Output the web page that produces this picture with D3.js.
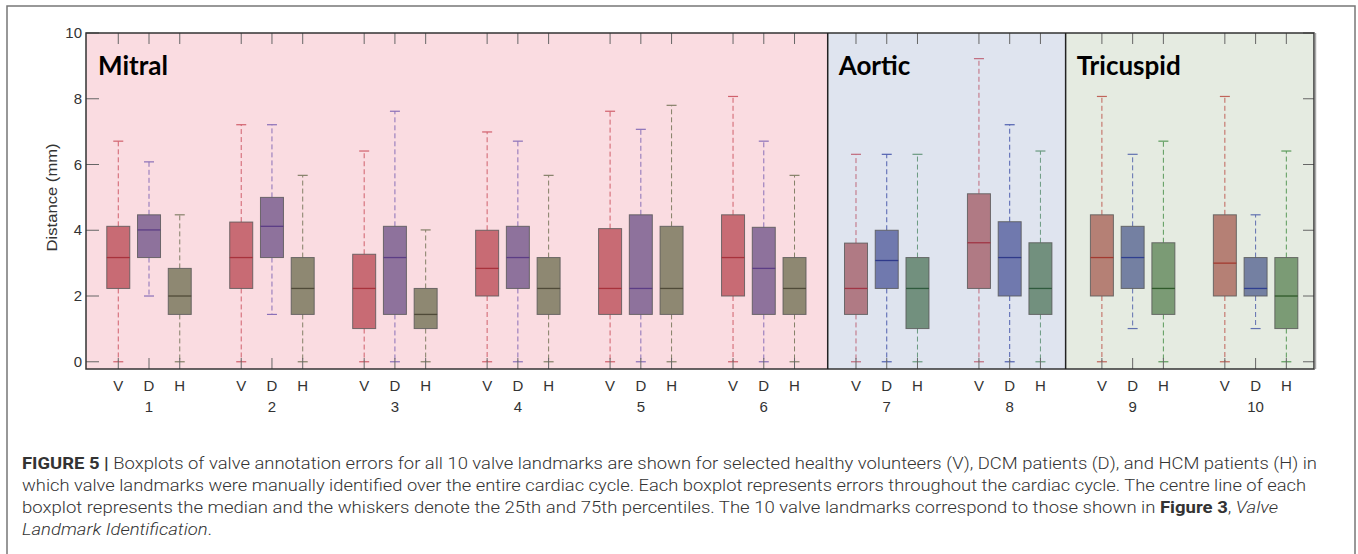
<!DOCTYPE html>
<html>
<head>
<meta charset="utf-8">
<script src="https://cdn.jsdelivr.net/npm/d3@7"></script>
<style>
  body { margin: 0; background: #fff; }
  .tick-label { font-family: "Liberation Sans", Arial, sans-serif; font-size: 15px; fill: #333; }
  .panel-title { font-family: Lato, "Liberation Sans", sans-serif; font-weight: bold; font-size: 26px; fill: #000; }
  .caption { font-family: Roboto, "Liberation Sans", sans-serif; font-weight: 300; font-size: 16.5px; fill: #333; }
</style>
</head>
<body>
<div id="chart"></div>
<script>
// ---- data ----
const landmarks = ["1", "2", "3", "4", "5", "6", "7", "8", "9", "10"];
const cohorts = ["V", "D", "H"];
const valves = ["Mitral", "Aortic", "Tricuspid"];
const valveOfLandmark = [0, 0, 0, 0, 0, 0, 1, 1, 2, 2];
const yTicks = [0, 2, 4, 6, 8, 10];

// [low whisker, q1, median, q3, high whisker] in mm
const statsV = [
  [0, 2.23, 3.17, 4.12, 6.71],
  [0, 2.23, 3.17, 4.25, 7.21],
  [0, 1.01, 2.23, 3.27, 6.41],
  [0, 2.0, 2.84, 4.0, 6.99],
  [0, 1.44, 2.23, 4.05, 7.62],
  [0, 2.0, 3.17, 4.47, 8.07],
  [0, 1.44, 2.23, 3.61, 6.31],
  [0, 2.23, 3.62, 5.11, 9.22],
  [0, 2.0, 3.17, 4.47, 8.07],
  [0, 2.0, 3.0, 4.47, 8.07]
];
const statsD = [
  [2.0, 3.17, 4.01, 4.47, 6.08],
  [1.44, 3.17, 4.12, 5.0, 7.21],
  [0, 1.44, 3.17, 4.12, 7.62],
  [0, 2.23, 3.17, 4.12, 6.71],
  [0, 1.44, 2.23, 4.47, 7.07],
  [0, 1.44, 2.84, 4.09, 6.71],
  [0, 2.23, 3.08, 4.0, 6.31],
  [0, 2.0, 3.17, 4.26, 7.21],
  [1.01, 2.23, 3.17, 4.12, 6.31],
  [1.01, 2.0, 2.23, 3.17, 4.47]
];
const statsH = [
  [0, 1.44, 2.0, 2.84, 4.47],
  [0, 1.44, 2.23, 3.17, 5.67],
  [0, 1.01, 1.44, 2.23, 4.01],
  [0, 1.44, 2.23, 3.17, 5.67],
  [0, 1.44, 2.23, 4.12, 7.8],
  [0, 1.44, 2.23, 3.17, 5.67],
  [0, 1.01, 2.23, 3.17, 6.31],
  [0, 1.44, 2.23, 3.62, 6.41],
  [0, 1.44, 2.23, 3.62, 6.71],
  [0, 1.01, 2.0, 3.17, 6.41]
];
const seriesStats = [statsV, statsD, statsH];

// ---- styling ----
const panelColors = ["#fadce1", "#dfe4ef", "#e5ebe1"];
// [valve][cohort]
const boxFill = [
  ["#c86b74", "#8e729c", "#8e8872"],
  ["#b07a84", "#7079ae", "#72907e"],
  ["#b58075", "#7480a2", "#7b9b75"]
];
const medianColor = [
  ["#a8323c", "#5c3d85", "#4f4a38"],
  ["#a03545", "#2f3a8a", "#2f5a3d"],
  ["#a33a30", "#2f3f90", "#2f5a2a"]
];
const whiskerColor = [
  ["#d0606c", "#8a70b8", "#858068"],
  ["#c06a7c", "#5060b0", "#6a9a80"],
  ["#c0645a", "#6070b0", "#5a9a5a"]
];

const plot = { left: 86, right: 1314, top: 33, bottom: 369 };
// x is measured in box slots: landmark i, cohort j sits at slot 4*i + j
const slotDomain = [-1.05, 38.9];
const panelBreaks = [23.08, 30.82];

const svg = d3.select("#chart").append("svg")
  .attr("width", 1358).attr("height", 554);

// outer figure frame
svg.append("rect")
  .attr("x", 7).attr("y", 6).attr("width", 1348).attr("height", 580)
  .attr("fill", "none").attr("stroke", "#777").attr("stroke-width", 1.5);

const x = d3.scaleLinear().domain(slotDomain).range([plot.left, plot.right]);
const y = d3.scaleLinear().domain([-0.22, 10]).range([plot.bottom, plot.top]);
const slot = (i, j) => 4 * i + j;

// panels
const edges = [slotDomain[0], ...panelBreaks, slotDomain[1]];
svg.append("g").selectAll("rect")
  .data(valves)
  .join("rect")
  .attr("x", (d, i) => x(edges[i]))
  .attr("y", plot.top)
  .attr("width", (d, i) => x(edges[i + 1]) - x(edges[i]))
  .attr("height", plot.bottom - plot.top)
  .attr("fill", (d, i) => panelColors[i]);

svg.append("g").selectAll("text")
  .data(valves)
  .join("text")
  .attr("class", "panel-title")
  .attr("x", (d, i) => x(edges[i]) + (i === 0 ? 12 : 11))
  .attr("y", 75)
  .text((d) => d);

// boxes
const boxData = [];
landmarks.forEach((lm, i) => {
  cohorts.forEach((c, j) => {
    const s = seriesStats[j][i];
    boxData.push({ i, j, v: valveOfLandmark[i], low: s[0], q1: s[1], med: s[2], q3: s[3], high: s[4] });
  });
});

const boxW = 23;
const capW = 10;
const boxG = svg.append("g").selectAll("g")
  .data(boxData)
  .join("g")
  .attr("transform", (d) => `translate(${x(slot(d.i, d.j))},0)`);

// whiskers
boxG.append("line")
  .attr("y1", (d) => y(d.q3)).attr("y2", (d) => y(d.high))
  .attr("stroke", (d) => whiskerColor[d.v][d.j]).attr("stroke-dasharray", "5,3");
boxG.append("line")
  .attr("y1", (d) => y(d.q1)).attr("y2", (d) => y(d.low))
  .attr("stroke", (d) => whiskerColor[d.v][d.j]).attr("stroke-dasharray", "5,3");
boxG.append("line")
  .attr("x1", -capW / 2).attr("x2", capW / 2)
  .attr("y1", (d) => y(d.high)).attr("y2", (d) => y(d.high))
  .attr("stroke", (d) => whiskerColor[d.v][d.j]).attr("stroke-width", 1.2);
boxG.append("line")
  .attr("x1", -capW / 2).attr("x2", capW / 2)
  .attr("y1", (d) => y(d.low)).attr("y2", (d) => y(d.low))
  .attr("stroke", (d) => whiskerColor[d.v][d.j]).attr("stroke-width", 1.2);

boxG.append("rect")
  .attr("x", -boxW / 2).attr("width", boxW)
  .attr("y", (d) => y(d.q3))
  .attr("height", (d) => y(d.q1) - y(d.q3))
  .attr("fill", (d) => boxFill[d.v][d.j])
  .attr("stroke", "#555").attr("stroke-opacity", 0.8);
boxG.append("line")
  .attr("x1", -boxW / 2).attr("x2", boxW / 2)
  .attr("y1", (d) => y(d.med)).attr("y2", (d) => y(d.med))
  .attr("stroke", (d) => medianColor[d.v][d.j]).attr("stroke-width", 1.3);

// ticks at every box position, top and bottom, pointing inward
const tickG = svg.append("g").attr("stroke", "#666");
tickG.selectAll(".tt").data(boxData).join("line")
  .attr("x1", (d) => x(slot(d.i, d.j))).attr("x2", (d) => x(slot(d.i, d.j)))
  .attr("y1", plot.top).attr("y2", plot.top + 11);
tickG.selectAll(".tb").data(boxData).join("line")
  .attr("x1", (d) => x(slot(d.i, d.j))).attr("x2", (d) => x(slot(d.i, d.j)))
  .attr("y1", plot.bottom).attr("y2", plot.bottom - 11);
tickG.selectAll(".tl").data(yTicks).join("line")
  .attr("x1", plot.left).attr("x2", plot.left + 13)
  .attr("y1", (d) => y(d)).attr("y2", (d) => y(d));
tickG.selectAll(".tr").data(yTicks).join("line")
  .attr("x1", plot.right).attr("x2", plot.right - 11)
  .attr("y1", (d) => y(d)).attr("y2", (d) => y(d));

// frame and panel dividers
svg.append("rect")
  .attr("x", plot.left).attr("y", plot.top)
  .attr("width", plot.right - plot.left).attr("height", plot.bottom - plot.top)
  .attr("fill", "none").attr("stroke", "#333").attr("stroke-width", 1.5);
svg.append("line")
  .attr("x1", plot.right + 1.5).attr("x2", plot.right + 1.5)
  .attr("y1", plot.top).attr("y2", plot.bottom)
  .attr("stroke", "#aaa").attr("stroke-width", 1.5);
svg.append("g").selectAll("line")
  .data(panelBreaks)
  .join("line")
  .attr("x1", (d) => x(d)).attr("x2", (d) => x(d))
  .attr("y1", plot.top).attr("y2", plot.bottom)
  .attr("stroke", "#222").attr("stroke-width", 1.5);

// y tick labels
svg.append("g").selectAll("text")
  .data(yTicks)
  .join("text")
  .attr("class", "tick-label")
  .attr("x", 82)
  .attr("y", (d) => y(d) + 5)
  .attr("text-anchor", "end")
  .text((d) => d);

svg.append("text")
  .attr("class", "tick-label")
  .attr("transform", `translate(57,${(y(0) + y(10)) / 2}) rotate(-90)`)
  .attr("text-anchor", "middle")
  .attr("textLength", 108)
  .attr("lengthAdjust", "spacingAndGlyphs")
  .text("Distance (mm)");

// x labels
svg.append("g").selectAll("text")
  .data(boxData)
  .join("text")
  .attr("class", "tick-label")
  .attr("x", (d) => x(slot(d.i, d.j)))
  .attr("y", 391)
  .attr("text-anchor", "middle")
  .text((d) => cohorts[d.j]);
svg.append("g").selectAll("text")
  .data(landmarks)
  .join("text")
  .attr("class", "tick-label")
  .attr("x", (d, i) => x(slot(i, 1)))
  .attr("y", 412)
  .attr("text-anchor", "middle")
  .text((d) => d);

// caption
const captionLines = [
  { w: 1295, parts: [["FIGURE 5 | ", "b"], ["Boxplots of valve annotation errors for all 10 valve landmarks are shown for selected healthy volunteers (V), DCM patients (D), and HCM patients (H) in", ""]] },
  { w: 1284, parts: [["which valve landmarks were manually identified over the entire cardiac cycle. Each boxplot represents errors throughout the cardiac cycle. The centre line of each", ""]] },
  { w: 1256, parts: [["boxplot represents the median and the whiskers denote the 25th and 75th percentiles. The 10 valve landmarks correspond to those shown in ", ""], ["Figure 3", "b"], [", ", ""], ["Valve", "i"]] },
  { w: 190, parts: [["Landmark Identification", "i"], [".", ""]] }
];
captionLines.forEach((line, k) => {
  const t = svg.append("text")
    .attr("class", "caption")
    .attr("x", 22)
    .attr("y", 469 + k * 22)
    .attr("textLength", line.w)
    .attr("lengthAdjust", "spacingAndGlyphs");
  line.parts.forEach(([s, f]) => {
    t.append("tspan")
      .attr("font-weight", f === "b" ? "bold" : null)
      .attr("font-style", f === "i" ? "italic" : null)
      .text(s);
  });
});
</script>
</body>
</html>
